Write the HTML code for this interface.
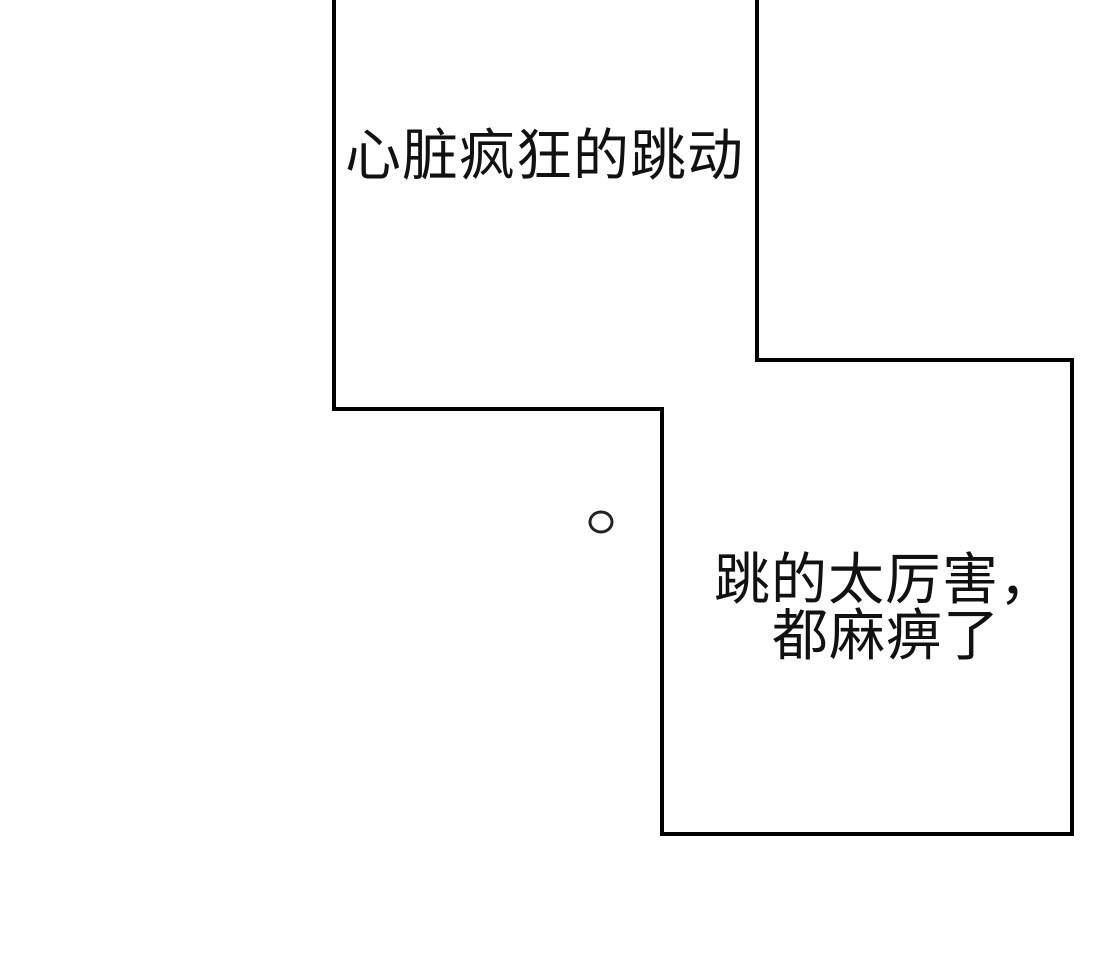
<!DOCTYPE html>
<html><head><meta charset="utf-8"><style>
html,body{margin:0;padding:0;background:#fff;}
body{width:1100px;height:977px;position:relative;overflow:hidden;}
.t{position:absolute;font-family:"Liberation Sans","Noto Sans CJK SC",sans-serif;color:#111;white-space:nowrap;line-height:1;}
</style></head><body>
<svg width="1100" height="977" style="position:absolute;left:0;top:0">
<polyline points="334,0 334,409 662,409 662,834 1072,834 1072,360 757,360 757,0" fill="none" stroke="#000" stroke-width="4" stroke-linejoin="miter"/>
<ellipse cx="601" cy="522" rx="11" ry="10" fill="none" stroke="#222" stroke-width="3"/>
</svg>
<div class="t" style="left:345px;top:128px;font-size:56px;letter-spacing:1px;">心脏疯狂的跳动</div>
<div class="t" style="left:714px;top:552px;font-size:56px;letter-spacing:1px;">跳的太厉害，</div>
<div class="t" style="left:772px;top:608px;font-size:56px;letter-spacing:1px;">都麻痹了</div>
</body></html>
